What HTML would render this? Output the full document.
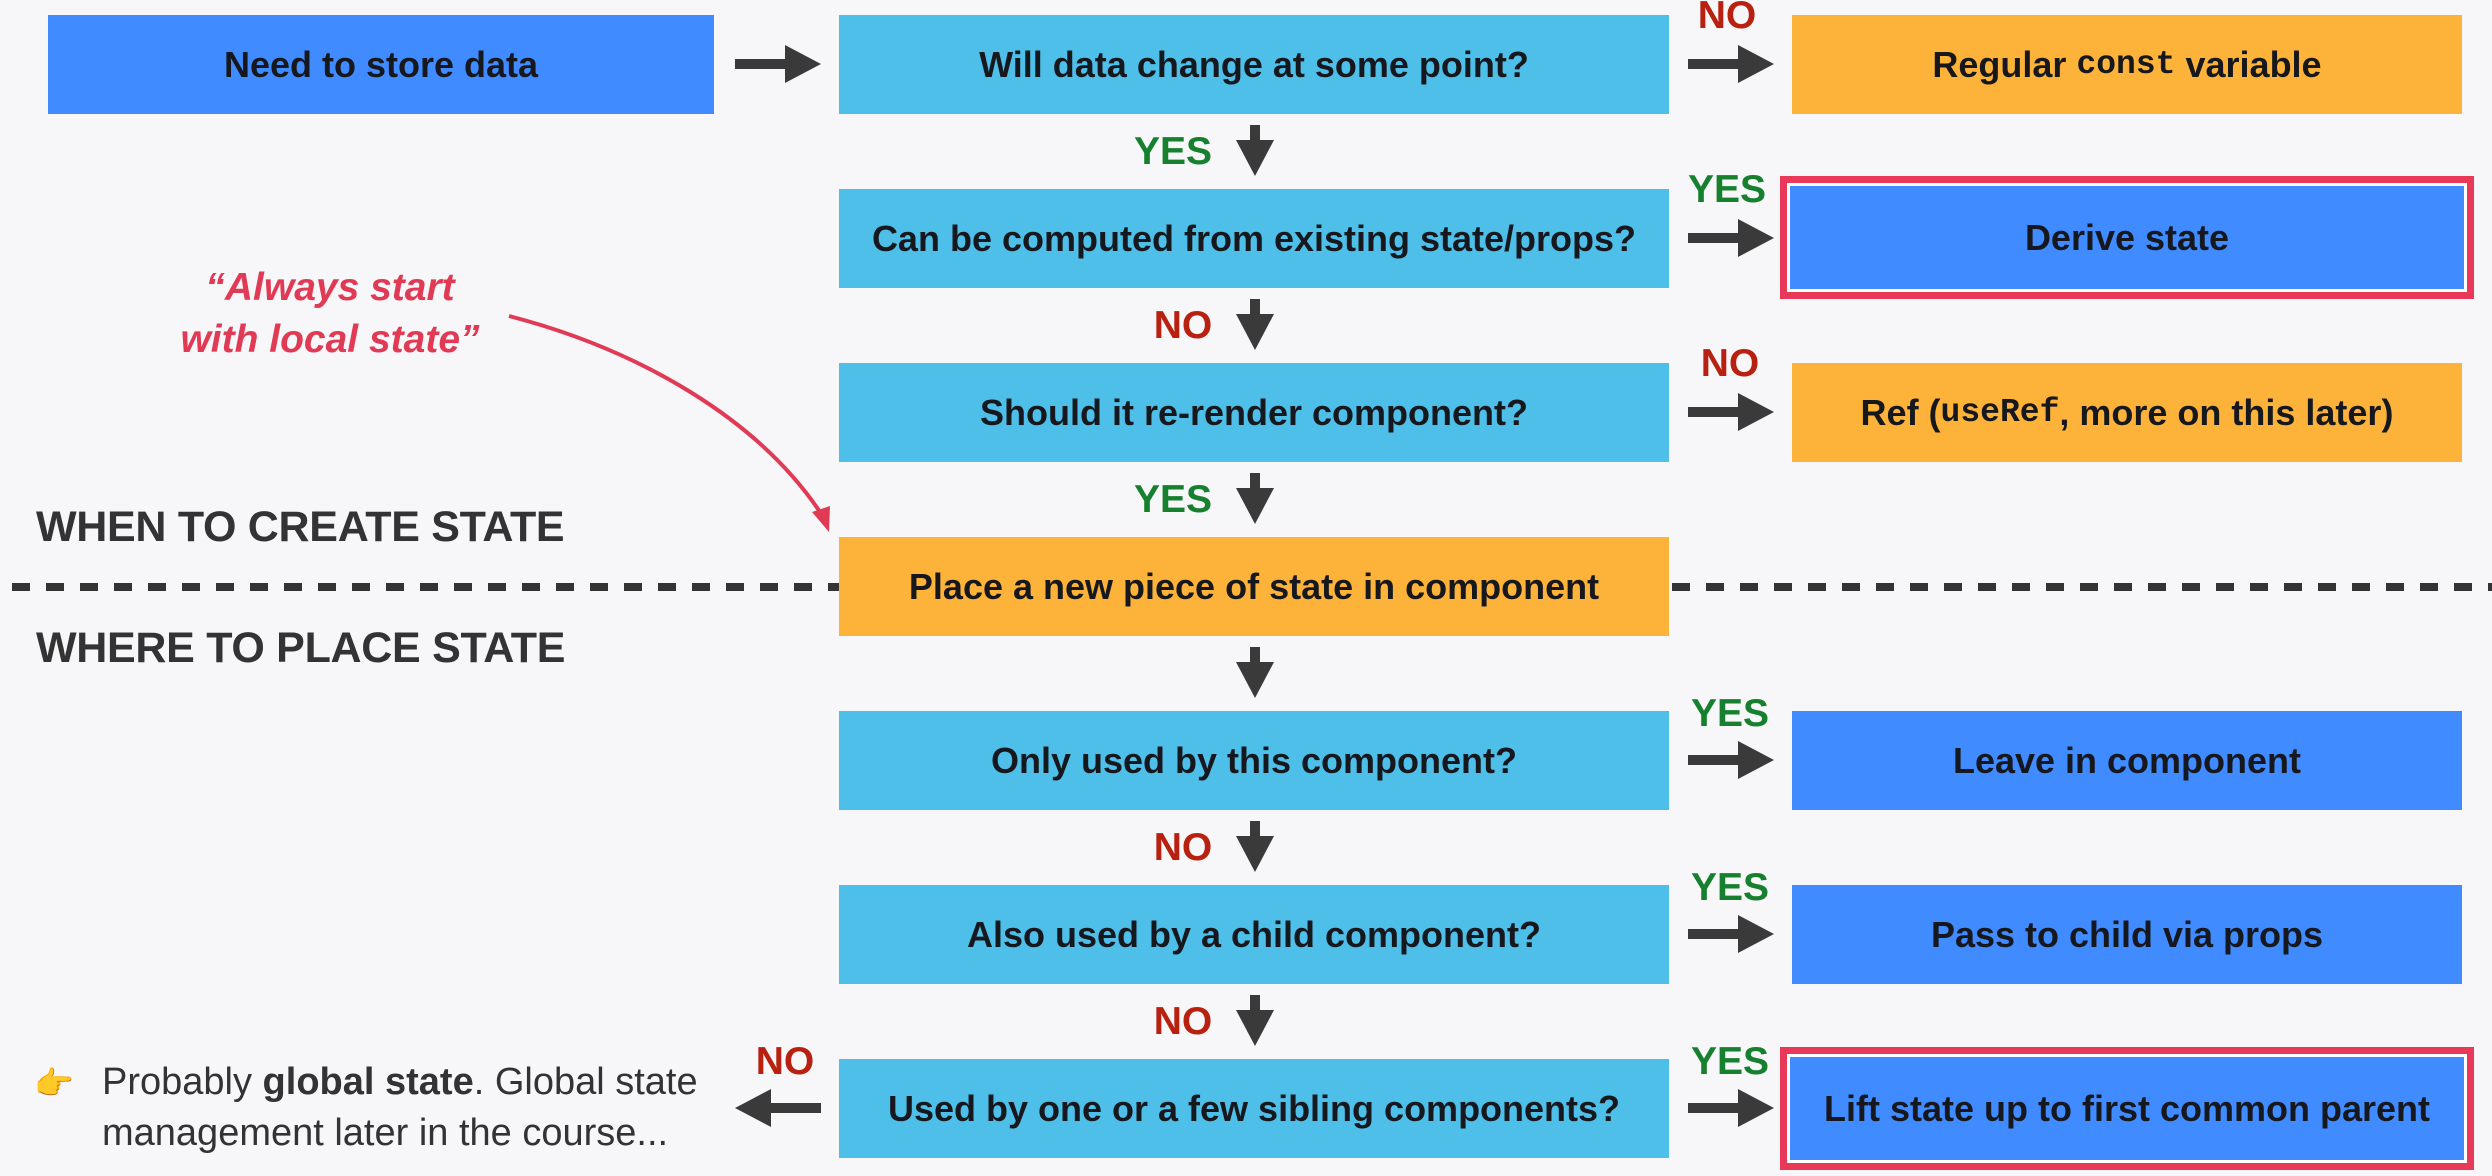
<!DOCTYPE html>
<html><head><meta charset="utf-8"><style>
html,body{margin:0;padding:0}
body{width:2492px;height:1176px;background:#f7f6f9;position:relative;overflow:hidden;font-family:"Liberation Sans",sans-serif}
.b{position:absolute;height:99px;display:flex;align-items:center;justify-content:center;font-weight:bold;font-size:36px;color:#16181d;box-sizing:border-box;white-space:nowrap}
.blue{background:#3f8bff}.cyan{background:#4dbfe9}.org{background:#fdb339}
.mid{left:839px;width:830px}
.rt{left:1792px;width:670px}
.red{position:absolute;left:1780px;width:694px;height:123px;border:7px solid #e83a58;box-sizing:border-box;background:#fff;padding:3px}
.red div{width:100%;height:100%;background:#3f8bff;display:flex;align-items:center;justify-content:center;font-weight:bold;font-size:36px;color:#16181d;white-space:nowrap}
code{font-family:"Liberation Mono",monospace;font-weight:bold;font-size:33px}
.l{position:absolute;font-weight:bold;font-size:39px;transform:translate(-50%,-50%)}
.y{color:#17802e}.n{color:#b8200f}
.h{position:absolute;left:36px;font-weight:bold;font-size:43px;color:#333;letter-spacing:-0.3px}
</style></head><body>
<div class="b blue" style="left:48px;width:666px;top:15px">Need to store data</div>
<div class="b cyan mid" style="top:15px">Will data change at some point?</div>
<div class="b org rt" style="top:15px">Regular&nbsp;<code>const</code>&nbsp;variable</div>
<div class="b cyan mid" style="top:189px">Can be computed from existing state/props?</div>
<div class="red" style="top:176px"><div>Derive state</div></div>
<div class="b cyan mid" style="top:363px">Should it re-render component?</div>
<div class="b org rt" style="top:363px">Ref (<code>useRef</code>, more on this later)</div>
<div class="b org mid" style="top:537px">Place a new piece of state in component</div>
<div class="b cyan mid" style="top:711px">Only used by this component?</div>
<div class="b blue rt" style="top:711px">Leave in component</div>
<div class="b cyan mid" style="top:885px">Also used by a child component?</div>
<div class="b blue rt" style="top:885px">Pass to child via props</div>
<div class="b cyan mid" style="top:1059px">Used by one or a few sibling components?</div>
<div class="red" style="top:1047px"><div>Lift state up to first common parent</div></div>

<div class="h" style="top:503px">WHEN TO CREATE STATE</div>
<div class="h" style="top:624px">WHERE TO PLACE STATE</div>

<div style="position:absolute;left:170px;top:262px;width:320px;text-align:center;color:#e03a55;font-style:italic;font-weight:bold;font-size:39px;line-height:52px">“Always start<br>with local state”</div>

<div style="position:absolute;left:34px;top:1064px;font-size:32px">👉</div>
<div style="position:absolute;left:102px;top:1057px;font-size:38px;color:#333;line-height:51px;white-space:nowrap">Probably <b>global state</b>. Global state<br>management later in the course...</div>

<svg width="2492" height="1176" style="position:absolute;left:0;top:0" xmlns="http://www.w3.org/2000/svg">
<defs>
<g id="ar"><rect x="0" y="-5" width="52" height="10" fill="#3a3a3a"/><polygon points="50,-19 86,0 50,19" fill="#3a3a3a"/></g>
<g id="ad"><rect x="-5" y="0" width="10" height="17" fill="#3a3a3a"/><polygon points="-19,15 19,15 0,51" fill="#3a3a3a"/></g>
</defs>
<line x1="12" y1="587" x2="839" y2="587" stroke="#333" stroke-width="8" stroke-dasharray="18 16"/>
<line x1="1672" y1="587" x2="2492" y2="587" stroke="#333" stroke-width="8" stroke-dasharray="18 16"/>
<use href="#ar" x="735" y="64"/>
<use href="#ar" x="1688" y="64"/>
<use href="#ar" x="1688" y="238"/>
<use href="#ar" x="1688" y="412"/>
<use href="#ar" x="1688" y="760"/>
<use href="#ar" x="1688" y="934"/>
<use href="#ar" x="1688" y="1108"/>
<use href="#ar" transform="translate(821,1108) scale(-1,1)"/>
<use href="#ad" x="1255" y="125"/>
<use href="#ad" x="1255" y="299"/>
<use href="#ad" x="1255" y="473"/>
<use href="#ad" x="1255" y="647"/>
<use href="#ad" x="1255" y="821"/>
<use href="#ad" x="1255" y="995"/>
<path d="M509,316 C640,350 760,420 822,515" fill="none" stroke="#e03a55" stroke-width="4"/>
<polygon points="829,532 812,512 830,506" fill="#e03a55"/>
</svg>

<div class="l y" style="left:1173px;top:152px">YES</div>
<div class="l n" style="left:1183px;top:326px">NO</div>
<div class="l y" style="left:1173px;top:500px">YES</div>
<div class="l n" style="left:1183px;top:848px">NO</div>
<div class="l n" style="left:1183px;top:1022px">NO</div>
<div class="l n" style="left:1727px;top:16px">NO</div>
<div class="l y" style="left:1727px;top:190px">YES</div>
<div class="l n" style="left:1730px;top:364px">NO</div>
<div class="l y" style="left:1730px;top:714px">YES</div>
<div class="l y" style="left:1730px;top:888px">YES</div>
<div class="l y" style="left:1730px;top:1062px">YES</div>
<div class="l n" style="left:785px;top:1062px">NO</div>
</body></html>
